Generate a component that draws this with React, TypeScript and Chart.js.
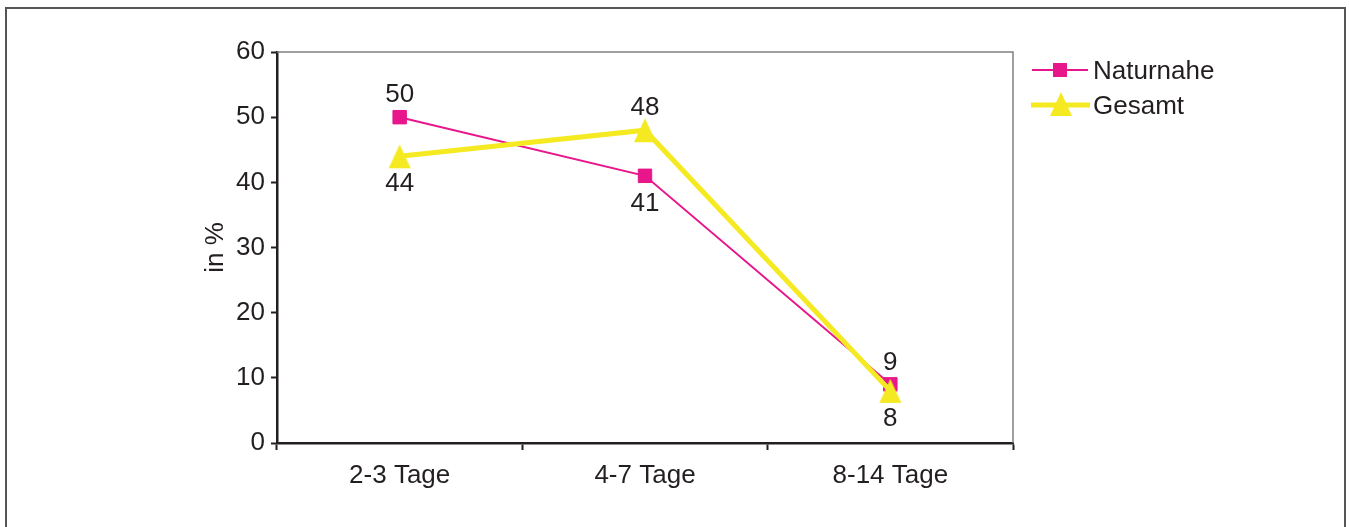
import React, { useEffect, useRef } from "react";
import { Chart, registerables } from "chart.js";

Chart.register(...registerables);

const categories = ["2-3 Tage", "4-7 Tage", "8-14 Tage"];
const naturnahe = [50, 41, 9];
const gesamt = [44, 48, 8];
const yTicks = { min: 0, max: 60, step: 10 };
const axisTitle = "in %";
const seriesNames = ["Naturnahe", "Gesamt"];

// label placement per point: -1 above the marker, +1 below
const naturnaheLabelSide = [-1, 1, -1];
const gesamtLabelSide = [1, -1, 1];

const PINK = "#E8168B";
const YELLOW = "#F5EA22";
const INK = "#231F20";
const FONT = "'Liberation Sans', Arial, sans-serif";
const FONT_SIZE = 26;

function makeTriangle(): HTMLCanvasElement {
  const c = document.createElement("canvas");
  c.width = 24;
  c.height = 26;
  const ctx = c.getContext("2d")!;
  ctx.fillStyle = YELLOW;
  ctx.beginPath();
  ctx.moveTo(12, 1);
  ctx.lineTo(23, 25);
  ctx.lineTo(1, 25);
  ctx.closePath();
  ctx.fill();
  return c;
}

export default function App() {
  const canvasRef = useRef<HTMLCanvasElement | null>(null);

  useEffect(() => {
    const canvas = canvasRef.current;
    if (!canvas) return;
    const triangle = makeTriangle();

    const frameLines = {
      id: "frameLines",
      beforeDatasetsDraw(chart: any) {
        const { ctx, chartArea } = chart;
        ctx.save();
        ctx.strokeStyle = "#808080";
        ctx.lineWidth = 1.5;
        ctx.beginPath();
        ctx.moveTo(chartArea.left, chartArea.top);
        ctx.lineTo(chartArea.right, chartArea.top);
        ctx.lineTo(chartArea.right, chartArea.bottom);
        ctx.stroke();
        ctx.restore();
      },
    };

    const valueLabels = {
      id: "valueLabels",
      afterDatasetsDraw(chart: any) {
        const { ctx } = chart;
        ctx.save();
        ctx.font = `${FONT_SIZE}px ${FONT}`;
        ctx.fillStyle = INK;
        ctx.textAlign = "center";
        ctx.textBaseline = "middle";
        const sides = [naturnaheLabelSide, gesamtLabelSide];
        chart.data.datasets.forEach((ds: any, i: number) => {
          const meta = chart.getDatasetMeta(i);
          meta.data.forEach((pt: any, j: number) => {
            const side = sides[i][j];
            ctx.fillText(String(ds.data[j]), pt.x, pt.y + side * 25 + 3);
          });
        });
        ctx.restore();
      },
    };

    const sideLegend = {
      id: "sideLegend",
      afterDraw(chart: any) {
        const { ctx } = chart;
        ctx.save();
        ctx.font = `${FONT_SIZE}px ${FONT}`;
        ctx.fillStyle = INK;
        ctx.textAlign = "left";
        ctx.textBaseline = "middle";
        // Naturnahe
        let y = 70;
        ctx.strokeStyle = PINK;
        ctx.lineWidth = 2;
        ctx.beginPath();
        ctx.moveTo(1032, y);
        ctx.lineTo(1088, y);
        ctx.stroke();
        ctx.fillStyle = PINK;
        ctx.fillRect(1053, y - 7, 14, 14);
        ctx.fillStyle = INK;
        ctx.fillText(seriesNames[0], 1093, y + 2);
        // Gesamt
        y = 105;
        ctx.strokeStyle = YELLOW;
        ctx.lineWidth = 5;
        ctx.beginPath();
        ctx.moveTo(1031, y);
        ctx.lineTo(1090, y);
        ctx.stroke();
        ctx.drawImage(triangle, 1061 - 12, y - 14);
        ctx.fillStyle = INK;
        ctx.fillText(seriesNames[1], 1093, y + 2);
        ctx.restore();
      },
    };

    const chart = new Chart(canvas, {
      type: "line",
      data: {
        labels: categories,
        datasets: [
          {
            label: seriesNames[0],
            data: naturnahe,
            borderColor: PINK,
            backgroundColor: PINK,
            borderWidth: 2,
            pointStyle: "rect",
            pointRadius: 9.5,
            pointBorderWidth: 1,
            pointBorderColor: PINK,
            pointBackgroundColor: PINK,
            order: 1,
          },
          {
            label: seriesNames[1],
            data: gesamt,
            borderColor: YELLOW,
            backgroundColor: YELLOW,
            borderWidth: 5,
            pointStyle: triangle,
            pointRadius: 12,
            order: 0,
          },
        ],
      },
      options: {
        animation: false,
        responsive: false,
        maintainAspectRatio: false,
        events: [],
        layout: { padding: { left: 0, top: 52, right: 336, bottom: 34 } },
        plugins: {
          legend: { display: false },
          tooltip: { enabled: false },
          title: { display: false },
        },
        scales: {
          x: {
            type: "category",
            offset: true,
            afterFit(scale: any) {
              scale.height = 50;
            },
            grid: {
              offset: true,
              drawOnChartArea: false,
              drawTicks: true,
              tickLength: 7,
              tickColor: INK,
              tickWidth: 2,
            },
            border: { display: true, color: INK, width: 2.5 },
            ticks: {
              color: INK,
              font: { family: FONT, size: FONT_SIZE },
              padding: 10,
              maxRotation: 0,
            },
          },
          y: {
            min: yTicks.min,
            max: yTicks.max,
            afterFit(scale: any) {
              scale.width = 277;
            },
            grid: {
              drawOnChartArea: false,
              drawTicks: true,
              tickLength: 6,
              tickColor: INK,
              tickWidth: 2,
            },
            border: { display: true, color: INK, width: 2.5 },
            ticks: {
              stepSize: yTicks.step,
              color: INK,
              font: { family: FONT, size: FONT_SIZE },
              padding: 6,
            },
            title: {
              display: true,
              text: axisTitle,
              color: INK,
              font: { family: FONT, size: FONT_SIZE, weight: "normal" },
              padding: { top: 200, bottom: 0 },
            },
          },
        },
      },
      plugins: [frameLines, valueLabels, sideLegend],
    } as any);

    return () => chart.destroy();
  }, []);

  return (
    <div
      style={{
        position: "fixed",
        left: 0,
        top: 0,
        width: 1349,
        height: 527,
        overflow: "hidden",
        background: "#fff",
      }}
    >
      <div
        style={{
          position: "absolute",
          left: 5,
          top: 7,
          width: 1341,
          height: 560,
          border: "2px solid #555",
          boxSizing: "border-box",
        }}
      />
      <canvas
        ref={canvasRef}
        width={1349}
        height={527}
        style={{ position: "absolute", left: 0, top: 0, width: 1349, height: 527 }}
      />
    </div>
  );
}
